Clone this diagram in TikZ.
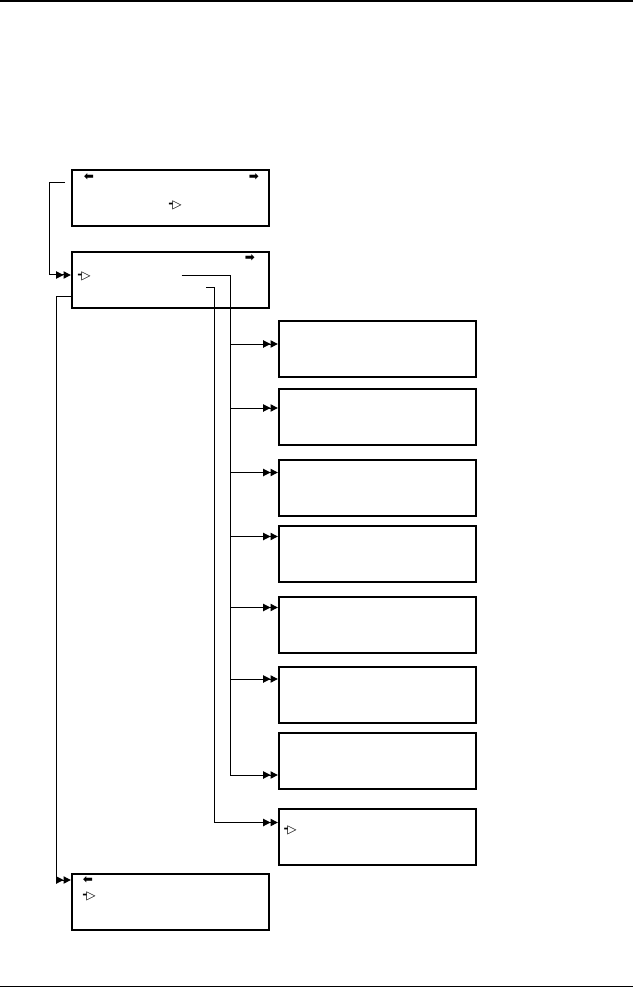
\documentclass[tikz,border=0pt]{standalone}
\usepackage{fontspec}
\newfontfamily\symfont{DejaVu Sans Bold}
\usetikzlibrary{arrows.meta, calc}
\tikzset{
  screen/.style = {rectangle, draw=black, line width=1.5pt, minimum width=148pt, minimum height=42pt, inner sep=0pt},
  glyph/.style = {inner sep=0pt, font=\symfont\fontsize{9}{9}\selectfont},
  wire/.style = {line width=0.75pt},
  feed/.style = {wire, -{Triangle[length=5.5pt,width=5.5pt,sep=0pt]Triangle[length=5.5pt,width=5.5pt]}},
  rule/.style = {line width=1.5pt}
}
\newcommand{\sel}{\raisebox{0.06em}{-}\kern-0.1em▷}

\begin{document}
\begin{tikzpicture}[x=0.75pt, y=-0.75pt]
\useasboundingbox (0,0) rectangle (633,987);
\draw[rule] (0,1) -- (633,1);
\draw[rule] (0,986.5) -- (633,986.5);

% left column
\node[screen] (top) at (170.5,198) {};
\node[screen] (main) at (170.5,280) {};
\node[screen] (exit) at (170.5,902) {};

% right column
\node[screen] (m3) at (377.5,349) {};
\node[screen] (m4) at (377.5,417) {};
\node[screen] (m5) at (377.5,487.5) {};
\node[screen] (m6) at (377.5,553.5) {};
\node[screen] (m7) at (377.5,624.5) {};
\node[screen] (m8) at (377.5,695) {};
\node[screen] (m9) at (377.5,761) {};
\node[screen] (m10) at (377.5,836.5) {};

% symbols
\node[glyph] (topL) at (89,177) {⬅};
\node[glyph] (topR) at (254,177) {➡};
\node[glyph] (topS) at (175,205) {\sel};
\node[glyph] (mainR) at (250,258) {➡};
\node[glyph] (mainS) at (84,276) {\sel};
\node[glyph] (m10S) at (290,830) {\sel};
\node[glyph] (exitL) at (88,880) {⬅};
\node[glyph] (exitS) at (89,896) {\sel};

% entry points
\coordinate (main-in) at ($(main.west)+(0,-5)$);
\coordinate (exit-in) at ($(exit.west)+(0,-22)$);
\foreach \n/\dy in {m3/-5, m4/-9, m5/-15, m6/-17, m7/-17, m8/-16, m9/14, m10/-14}
  \coordinate (\n-in) at ($(\n.west)+(0,\dy)$);

\coordinate (loopA) at (65,182.7);
\coordinate (loopB) at ($(main.west)+(0,16)$);
\coordinate (itemA) at (181.7,275.7);
\coordinate (itemB) at (206,287.7);
\coordinate (busA) at (230.7,275.7);
\coordinate (busB) at (214.3,287.7);

\draw[feed] (loopA) -- ++(-15.7,0) |- (main-in);
\draw[feed] (loopB) -- ++(-14.8,0) |- (exit-in);
\draw[feed] (itemA) -- (busA) |- (m9-in);
\draw[feed] (itemB) -- (busB) |- (m10-in);
\foreach \n in {m3,m4,m5,m6,m7,m8}
  \draw[feed] (busA |- \n-in) -- (\n-in);
\end{tikzpicture}
\end{document}
